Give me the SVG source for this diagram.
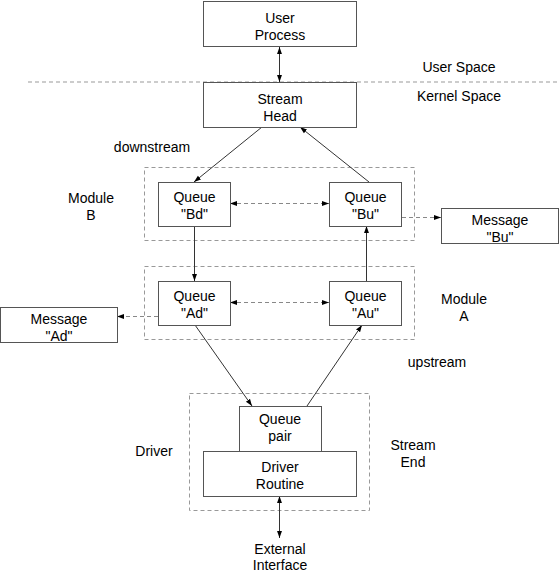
<svg xmlns="http://www.w3.org/2000/svg" width="560" height="573" viewBox="0 0 560 573">
<defs>
<marker id="ah" viewBox="0 0 10 10" refX="10" refY="5" markerWidth="7" markerHeight="7" markerUnits="userSpaceOnUse" orient="auto-start-reverse">
<path d="M0,1.5 L10,5 L0,8.5 z" fill="#000"/>
</marker>
</defs>
<style>
.box{fill:#fff;stroke:#555;stroke-width:1}
.grp{fill:none;stroke:#999;stroke-width:1;stroke-dasharray:4,3}
.ln{fill:none;stroke:#333;stroke-width:1}
.dl{fill:none;stroke:#888;stroke-width:1;stroke-dasharray:4,3}
text{font-family:"Liberation Sans",Arial,sans-serif;font-size:14px;fill:#000;text-anchor:middle}
</style>
<rect width="560" height="573" fill="#fff"/>
<g id="separator"><line x1="28" y1="82" x2="560" y2="82" class="grp" stroke="#777"/></g>
<g id="groups">
<rect id="moduleB" class="grp" x="144.5" y="167.5" width="270" height="73"/>
<rect id="moduleA" class="grp" x="144.5" y="266.5" width="270" height="73"/>
<rect id="driverGroup" class="grp" x="189.5" y="393.5" width="180" height="117"/>
</g>
<g id="labels">
<text x="459" y="72">User Space</text>
<text x="459" y="101">Kernel Space</text>
<text x="152" y="152">downstream</text>
<text x="91" y="203">Module</text><text x="91" y="220">B</text>
<text x="464" y="304">Module</text><text x="464" y="321">A</text>
<text x="437" y="367">upstream</text>
<text x="154" y="456">Driver</text>
<text x="413" y="450">Stream</text><text x="413" y="467">End</text>
<text x="280" y="554">External</text><text x="280" y="570">Interface</text>
</g>
<g id="connectors">
<line class="ln" x1="279.5" y1="47" x2="279.5" y2="82" marker-start="url(#ah)" marker-end="url(#ah)"/>
<line class="ln" x1="262" y1="127" x2="194" y2="182" marker-end="url(#ah)"/>
<line class="ln" x1="369" y1="182" x2="300" y2="127" marker-end="url(#ah)"/>
<line class="dl" x1="230" y1="203.5" x2="329" y2="203.5" marker-start="url(#ah)" marker-end="url(#ah)"/>
<line class="dl" x1="402" y1="217.5" x2="441" y2="217.5" marker-end="url(#ah)"/>
<line class="ln" x1="194.5" y1="226" x2="194.5" y2="281" marker-end="url(#ah)"/>
<line class="ln" x1="366.5" y1="281" x2="366.5" y2="226" marker-end="url(#ah)"/>
<line class="dl" x1="230" y1="302.5" x2="329" y2="302.5" marker-start="url(#ah)" marker-end="url(#ah)"/>
<line class="dl" x1="158" y1="316.5" x2="117" y2="316.5" marker-end="url(#ah)"/>
<line class="ln" x1="195" y1="325" x2="252" y2="406" marker-end="url(#ah)"/>
<line class="ln" x1="307" y1="406" x2="362" y2="325" marker-end="url(#ah)"/>
<line class="ln" x1="279.5" y1="496" x2="279.5" y2="538" marker-start="url(#ah)" marker-end="url(#ah)"/>
</g>
<g id="userProcess"><rect class="box" x="203.5" y="1.5" width="153" height="45"/><text x="280" y="23">User</text><text x="280" y="40">Process</text></g>
<g id="streamHead"><rect class="box" x="203.5" y="82.5" width="153" height="45"/><text x="280" y="104">Stream</text><text x="280" y="121">Head</text></g>
<g id="queueBd"><rect class="box" x="158.5" y="182.5" width="72" height="44"/><text x="194.5" y="202">Queue</text><text x="194.5" y="219">"Bd"</text></g>
<g id="queueBu"><rect class="box" x="329.5" y="182.5" width="72" height="44"/><text x="365.5" y="202">Queue</text><text x="365.5" y="219">"Bu"</text></g>
<g id="messageBu"><rect class="box" x="441.5" y="208.5" width="117" height="35"/><text x="500" y="225">Message</text><text x="500" y="242">"Bu"</text></g>
<g id="queueAd"><rect class="box" x="158.5" y="281.5" width="72" height="44"/><text x="194.5" y="301">Queue</text><text x="194.5" y="318">"Ad"</text></g>
<g id="queueAu"><rect class="box" x="329.5" y="281.5" width="72" height="44"/><text x="365.5" y="301">Queue</text><text x="365.5" y="318">"Au"</text></g>
<g id="messageAd"><rect class="box" x="0.5" y="307.5" width="117" height="35"/><text x="59" y="324">Message</text><text x="59" y="341">"Ad"</text></g>
<g id="queuePair"><rect class="box" x="239.5" y="406.5" width="82" height="45"/><text x="280" y="424">Queue</text><text x="280" y="441">pair</text></g>
<g id="driverRoutine"><rect class="box" x="203.5" y="451.5" width="153" height="45"/><text x="280" y="472">Driver</text><text x="280" y="489">Routine</text></g>
</svg>
